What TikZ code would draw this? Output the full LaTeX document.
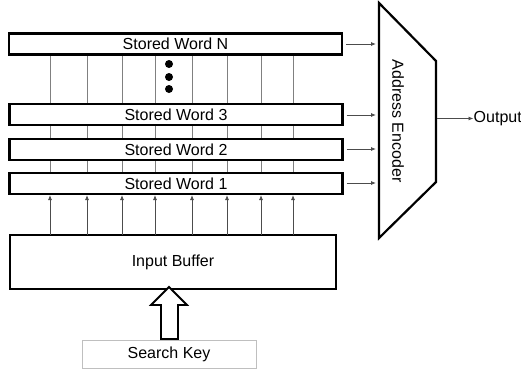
\documentclass[tikz,border=0pt]{standalone}
\usepackage{fontspec}
\setmainfont{Liberation Sans}
\usetikzlibrary{arrows.meta}
\begin{document}
\begin{tikzpicture}[x=1pt,y=-1pt,
  wordbox/.style={draw=black,line width=2.4pt,fill=white,minimum width=333pt,minimum height=21pt,inner sep=0pt,font=\fontsize{16}{17}\selectfont},
  bitline/.style={draw=black!50,line width=0.8pt},
  smallarrow/.style={draw=black!70,line width=0.8pt,-{Latex[length=5pt,width=4pt]}},
  txt/.style={font=\fontsize{16}{17}\selectfont,inner sep=0pt}]
\useasboundingbox (0,0) rectangle (521,372);
% bit lines
\foreach \x in {50,87,122,155,192,227,261,293}{
  \draw[bitline] (\x,55) -- (\x,173);
}
\node[wordbox] (swn) at (175.5,44) {Stored Word N};
\node[wordbox] (sw3) at (176,114.5) {Stored Word 3};
\node[wordbox] (sw2) at (176,149.5) {Stored Word 2};
\node[wordbox] (sw1) at (176,183.5) {Stored Word 1};
\foreach \y in {64,77,89}{
  \fill (169,\y) circle (4pt);
}
\node[draw=black,line width=2.4pt,minimum width=326pt,minimum height=54pt,inner sep=0pt,txt] (ib) at (173,262) {Input Buffer};
\foreach \x in {50,87,122,155,192,227,261,293}{
  \draw[smallarrow] (\x,235) -- (\x,195);
}
% encoder
\coordinate (e1) at (379,3);
\coordinate (e2) at (436,61);
\coordinate (e3) at (436,182);
\coordinate (e4) at (379,238);
\draw[line width=2.2pt,line join=miter] (e1) -- (e2) -- (e3) -- (e4) -- cycle;
\node[txt,rotate=-90] (enc) at (398,121) {Address Encoder};
\foreach \n/\y in {swn/44,sw3/115,sw2/149,sw1/183}{
  \coordinate (in\n) at (376,\y);
  \draw[smallarrow] (\n.east |- in\n) ++(3,0) -- (in\n);
}
\node[txt,anchor=west] (out) at (473.5,118.5) {Output};
\coordinate (eo) at (437,118.5);
\draw[smallarrow] (eo) -- (out.west);
% search key
\node[draw=black!25,line width=0.8pt,minimum width=174pt,minimum height=28pt,inner sep=0pt,txt] (sk) at (169,354) {Search Key};
\draw[line width=1.8pt,line join=miter,fill=white] (161,339) -- (161,305) -- (151,305) -- (169,287) -- (187,305) -- (178,305) -- (178,339) -- cycle;
\end{tikzpicture}
\end{document}
